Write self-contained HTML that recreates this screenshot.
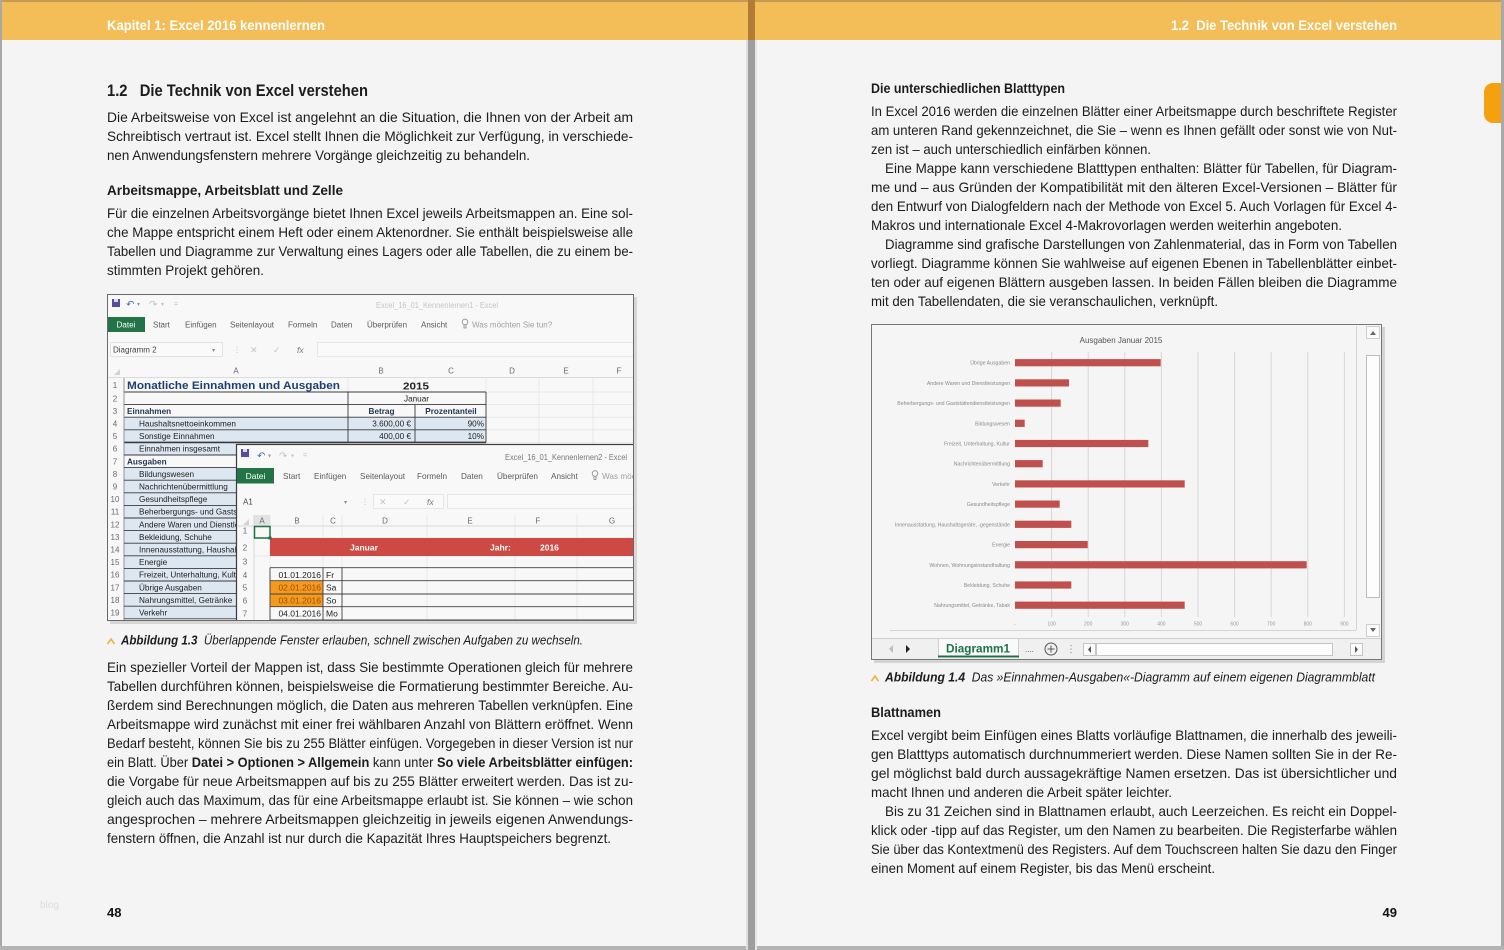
<!DOCTYPE html>
<html><head><meta charset="utf-8">
<style>
html,body{margin:0;padding:0;background:#f4f4f4;}
svg{display:block;}
text{font-family:"Liberation Sans",Arial,sans-serif;white-space:pre;}
</style></head><body>
<svg width="1504" height="950" viewBox="0 0 1504 950" xmlns="http://www.w3.org/2000/svg">
<defs>
<clipPath id="c1"><rect x="108" y="295" width="525" height="325"/></clipPath>
<clipPath id="c2"><rect x="237" y="445" width="396" height="175"/></clipPath>
</defs>
<rect width="1504" height="950" fill="#f4f4f4"/>
<!-- header band -->
<rect x="0" y="0" width="1504" height="40" fill="#f3bd57"/>
<rect x="0" y="0" width="1504" height="2" fill="#c39a58"/>
<!-- orange side tab -->
<path d="M1504 83 H1493 a9 9 0 0 0 -9 9 V114 a9 9 0 0 0 9 9 H1504 Z" fill="#f5a00f"/>
<!-- borders -->
<rect x="0" y="0" width="2" height="950" fill="#a9a9a9"/>
<rect x="1501" y="0" width="3" height="950" fill="#a9a9a9"/>
<rect x="0" y="946" width="1504" height="4" fill="#b3b3b3"/>
<!-- gutter -->
<rect x="746" y="40" width="2" height="910" fill="#dedede"/>
<rect x="755" y="40" width="2" height="910" fill="#e6e6e6"/>
<rect x="748" y="0" width="7" height="950" fill="#9e9e9e"/>
<rect x="748" y="0" width="7" height="40" fill="#b27c36"/>

<!-- header texts -->
<text x="107" y="30" font-size="14" font-weight="bold" fill="#ffffff" textLength="218" lengthAdjust="spacingAndGlyphs">Kapitel 1: Excel 2016 kennenlernen</text>
<text x="1171" y="30" font-size="14" font-weight="bold" fill="#ffffff" textLength="226" lengthAdjust="spacingAndGlyphs">1.2  Die Technik von Excel verstehen</text>

<!-- LEFT PAGE TEXT -->
<g fill="#1c1c1c" font-size="14">
<text x="107" y="96" font-size="17" font-weight="bold" textLength="261" lengthAdjust="spacingAndGlyphs">1.2   Die Technik von Excel verstehen</text>
<text x="107" y="122" textLength="526" lengthAdjust="spacingAndGlyphs">Die Arbeitsweise von Excel ist angelehnt an die Situation, die Ihnen von der Arbeit am</text>
<text x="107" y="141" textLength="526" lengthAdjust="spacingAndGlyphs">Schreibtisch vertraut ist. Excel stellt Ihnen die Möglichkeit zur Verfügung, in verschiede-</text>
<text x="107" y="160" textLength="423" lengthAdjust="spacingAndGlyphs">nen Anwendungsfenstern mehrere Vorgänge gleichzeitig zu behandeln.</text>
<text x="107" y="195" font-weight="bold" textLength="236" lengthAdjust="spacingAndGlyphs">Arbeitsmappe, Arbeitsblatt und Zelle</text>
<text x="107" y="218" textLength="526" lengthAdjust="spacingAndGlyphs">Für die einzelnen Arbeitsvorgänge bietet Ihnen Excel jeweils Arbeitsmappen an. Eine sol-</text>
<text x="107" y="237" textLength="526" lengthAdjust="spacingAndGlyphs">che Mappe entspricht einem Heft oder einem Aktenordner. Sie enthält beispielsweise alle</text>
<text x="107" y="256" textLength="526" lengthAdjust="spacingAndGlyphs">Tabellen und Diagramme zur Verwaltung eines Lagers oder alle Tabellen, die zu einem be-</text>
<text x="107" y="275" textLength="157" lengthAdjust="spacingAndGlyphs">stimmten Projekt gehören.</text>

<text x="107" y="672" textLength="526" lengthAdjust="spacingAndGlyphs">Ein spezieller Vorteil der Mappen ist, dass Sie bestimmte Operationen gleich für mehrere</text>
<text x="107" y="691" textLength="526" lengthAdjust="spacingAndGlyphs">Tabellen durchführen können, beispielsweise die Formatierung bestimmter Bereiche. Au-</text>
<text x="107" y="710" textLength="526" lengthAdjust="spacingAndGlyphs">ßerdem sind Berechnungen möglich, die Daten aus mehreren Tabellen verknüpfen. Eine</text>
<text x="107" y="729" textLength="526" lengthAdjust="spacingAndGlyphs">Arbeitsmappe wird zunächst mit einer frei wählbaren Anzahl von Blättern eröffnet. Wenn</text>
<text x="107" y="748" textLength="526" lengthAdjust="spacingAndGlyphs">Bedarf besteht, können Sie bis zu 255 Blätter einfügen. Vorgegeben in dieser Version ist nur</text>
<text x="107" y="767" textLength="526" lengthAdjust="spacingAndGlyphs">ein Blatt. Über <tspan font-weight="bold">Datei &gt; Optionen &gt; Allgemein</tspan> kann unter <tspan font-weight="bold">So viele Arbeitsblätter einfügen:</tspan></text>
<text x="107" y="786" textLength="526" lengthAdjust="spacingAndGlyphs">die Vorgabe für neue Arbeitsmappen auf bis zu 255 Blätter erweitert werden. Das ist zu-</text>
<text x="107" y="805" textLength="526" lengthAdjust="spacingAndGlyphs">gleich auch das Maximum, das für eine Arbeitsmappe erlaubt ist. Sie können – wie schon</text>
<text x="107" y="824" textLength="526" lengthAdjust="spacingAndGlyphs">angesprochen – mehrere Arbeitsmappen gleichzeitig in jeweils eigenen Anwendungs-</text>
<text x="107" y="843" textLength="504" lengthAdjust="spacingAndGlyphs">fenstern öffnen, die Anzahl ist nur durch die Kapazität Ihres Hauptspeichers begrenzt.</text>
</g>

<!-- caption 1.3 -->
<path d="M107.5 644 l3.5 -5 l3.5 5" stroke="#efb23a" stroke-width="1.6" fill="none"/>
<text x="121" y="644.5" font-size="12.5" font-style="italic" fill="#1c1c1c" textLength="462" lengthAdjust="spacingAndGlyphs"><tspan font-weight="bold">Abbildung 1.3</tspan>  Überlappende Fenster erlauben, schnell zwischen Aufgaben zu wechseln.</text>

<!-- page number left + blog -->
<text x="40" y="908" font-size="10" fill="#dcdcdc">blog</text>
<text x="107" y="917" font-size="13" font-weight="bold" fill="#111">48</text>

<!-- ========== EXCEL SCREENSHOT 1 ========== -->
<rect x="110" y="297" width="527" height="327" fill="#c9c9c9" opacity="0.7"/>
<rect x="107.5" y="294.5" width="526" height="326" fill="#f8f8f8" stroke="#6a6a6a"/>
<g clip-path="url(#c1)">
 <!-- title bar -->
 <rect x="112" y="299" width="8" height="8" fill="#5b4a9e"/>
 <rect x="114" y="299" width="4" height="3" fill="#ddd"/>
 <text x="126" y="307.5" font-size="10" fill="#3f6fb5">↶</text>
 <text x="137" y="306" font-size="6" fill="#999">▾</text>
 <text x="149" y="307.5" font-size="10" fill="#c2c2c2">↷</text>
 <text x="161" y="306" font-size="6" fill="#c2c2c2">▾</text>
 <text x="174" y="306" font-size="7" fill="#c2c2c2">=</text>
 <text x="376" y="308" font-size="8" fill="#c4c4c4" textLength="122" lengthAdjust="spacingAndGlyphs">Excel_16_01_Kennenlernen1 - Excel</text>
 <!-- tabs -->
 <rect x="107" y="317" width="38" height="15" fill="#227447"/>
 <text x="126" y="327.5" font-size="8" fill="#fff" text-anchor="middle">Datei</text>
 <g font-size="8" fill="#5a5a5a">
  <text x="153" y="327.5">Start</text>
  <text x="185" y="327.5">Einfügen</text>
  <text x="230" y="327.5">Seitenlayout</text>
  <text x="288" y="327.5">Formeln</text>
  <text x="331" y="327.5">Daten</text>
  <text x="367" y="327.5">Überprüfen</text>
  <text x="421" y="327.5">Ansicht</text>
 </g>
 <circle cx="465" cy="322" r="2.8" fill="none" stroke="#888" stroke-width=".8"/>
 <path d="M464 325 v3 h2 v-3" fill="none" stroke="#888" stroke-width=".8"/>
 <text x="472" y="327.5" font-size="8" fill="#a0a0a0">Was möchten Sie tun?</text>
 <!-- formula bar -->
 <rect x="110.5" y="342.5" width="112" height="14" fill="#fafafa" stroke="#e2e2e2"/>
 <text x="113" y="352.5" font-size="8" fill="#444">Diagramm 2</text>
 <text x="212" y="352" font-size="6" fill="#888">▾</text>
 <text x="233" y="352.5" font-size="8" fill="#bbb">⋮</text>
 <text x="250" y="353" font-size="9" fill="#c4c4c4">✕</text>
 <text x="273" y="353" font-size="9" fill="#c4c4c4">✓</text>
 <text x="297" y="353" font-size="8.5" font-style="italic" fill="#777">fx</text>
 <rect x="317.5" y="342.5" width="320" height="14" fill="#fafafa" stroke="#e6e6e6"/>
 <!-- column headers -->
 <path d="M114 375 L120 369 L120 375 Z" fill="#d2d2d2"/>
 <g font-size="8" fill="#6a6a6a" text-anchor="middle">
  <text x="236" y="373.5">A</text><text x="381" y="373.5">B</text><text x="451" y="373.5">C</text>
  <text x="512" y="373.5">D</text><text x="566" y="373.5">E</text><text x="619" y="373.5">F</text>
 </g>
 <line x1="107" y1="377.5" x2="634" y2="377.5" stroke="#dcdcdc"/>
 <!-- fills -->
 <rect x="124" y="417.2" width="362" height="25.2" fill="#dde7f2"/>
 <rect x="124" y="442.4" width="224" height="12.6" fill="#dde7f2"/>
 <rect x="124" y="467.6" width="224" height="151.2" fill="#dde7f2"/>
 <!-- faint grid -->
 <g stroke="#e4e4e4" stroke-width="0.8">
  <line x1="124" y1="378" x2="124" y2="620"/><line x1="348" y1="378" x2="348" y2="620"/>
  <line x1="415" y1="378" x2="415" y2="620"/><line x1="486" y1="378" x2="486" y2="620"/>
  <line x1="539" y1="378" x2="539" y2="620"/><line x1="593" y1="378" x2="593" y2="620"/>
  <line x1="486" y1="392" x2="634" y2="392"/><line x1="486" y1="404.6" x2="634" y2="404.6"/>
  <line x1="486" y1="417.2" x2="634" y2="417.2"/><line x1="486" y1="429.8" x2="634" y2="429.8"/>
  <line x1="486" y1="442.4" x2="634" y2="442.4"/>
 </g>
 <!-- dark borders -->
 <g stroke="#3a3a3a" stroke-width="0.9">
  <line x1="124" y1="392" x2="486" y2="392"/>
  <line x1="124" y1="404.6" x2="486" y2="404.6"/>
  <line x1="124" y1="417.2" x2="486" y2="417.2"/>
  <line x1="124" y1="429.8" x2="486" y2="429.8"/>
  <line x1="124" y1="442.4" x2="486" y2="442.4" stroke-width="1.6"/>
  <line x1="348" y1="392" x2="348" y2="442.4"/>
  <line x1="415" y1="404.6" x2="415" y2="442.4"/>
  <line x1="486" y1="392" x2="486" y2="442.4"/>
  <line x1="124" y1="378" x2="124" y2="620" stroke="#8a8a8a"/>
  <line x1="124" y1="455" x2="348" y2="455"/>
  <line x1="124" y1="467.6" x2="348" y2="467.6"/>
  <line x1="124" y1="480.2" x2="348" y2="480.2"/>
  <line x1="124" y1="492.8" x2="348" y2="492.8"/>
  <line x1="124" y1="505.4" x2="348" y2="505.4"/>
  <line x1="124" y1="518" x2="348" y2="518"/>
  <line x1="124" y1="530.6" x2="348" y2="530.6"/>
  <line x1="124" y1="543.2" x2="348" y2="543.2"/>
  <line x1="124" y1="555.8" x2="348" y2="555.8"/>
  <line x1="124" y1="568.4" x2="348" y2="568.4"/>
  <line x1="124" y1="581" x2="348" y2="581"/>
  <line x1="124" y1="593.6" x2="348" y2="593.6"/>
  <line x1="124" y1="606.2" x2="348" y2="606.2"/>
  <line x1="124" y1="618.8" x2="348" y2="618.8"/>
 </g>
 <!-- row numbers -->
 <g font-size="8" fill="#6a6a6a" text-anchor="middle">
  <text x="115" y="388">1</text><text x="115" y="401.3">2</text><text x="115" y="413.9">3</text>
  <text x="115" y="426.5">4</text><text x="115" y="439.1">5</text><text x="115" y="451.7">6</text>
  <text x="115" y="464.3">7</text><text x="115" y="476.9">8</text><text x="115" y="489.5">9</text>
  <text x="115" y="502.1">10</text><text x="115" y="514.7">11</text><text x="115" y="527.3">12</text>
  <text x="115" y="539.9">13</text><text x="115" y="552.5">14</text><text x="115" y="565.1">15</text>
  <text x="115" y="577.7">16</text><text x="115" y="590.3">17</text><text x="115" y="602.9">18</text>
  <text x="115" y="615.5">19</text>
 </g>
 <!-- cell text -->
 <text x="127" y="389" font-size="11" font-weight="bold" fill="#1f3f73" textLength="213" lengthAdjust="spacingAndGlyphs">Monatliche Einnahmen und Ausgaben</text>
 <text x="403" y="389.5" font-size="10.5" font-weight="bold" fill="#222" textLength="26" lengthAdjust="spacingAndGlyphs">2015</text>
 <g font-size="8.2" fill="#222">
  <text x="416.5" y="401.3" text-anchor="middle">Januar</text>
  <text x="127" y="413.9" font-weight="bold" fill="#1f3350">Einnahmen</text>
  <text x="381.5" y="413.9" text-anchor="middle" font-weight="bold" fill="#1f3350">Betrag</text>
  <text x="451" y="413.9" text-anchor="middle" font-weight="bold" fill="#1f3350">Prozentanteil</text>
  <text x="139" y="426.5">Haushaltsnettoeinkommen</text>
  <text x="411" y="426.5" text-anchor="end">3.600,00 €</text>
  <text x="484" y="426.5" text-anchor="end">90%</text>
  <text x="139" y="439.1">Sonstige Einnahmen</text>
  <text x="411" y="439.1" text-anchor="end">400,00 €</text>
  <text x="484" y="439.1" text-anchor="end">10%</text>
  <text x="139" y="451.7">Einnahmen insgesamt</text>
  <text x="127" y="464.3" font-weight="bold" fill="#1f3350">Ausgaben</text>
  <text x="139" y="476.9">Bildungswesen</text>
  <text x="139" y="489.5">Nachrichtenübermittlung</text>
  <text x="139" y="502.1">Gesundheitspflege</text>
  <text x="139" y="514.7">Beherbergungs- und Gaststätten</text>
  <text x="139" y="527.3">Andere Waren und Dienstleistungen</text>
  <text x="139" y="539.9">Bekleidung, Schuhe</text>
  <text x="139" y="552.5">Innenausstattung, Haushaltsgeräte</text>
  <text x="139" y="565.1">Energie</text>
  <text x="139" y="577.7">Freizeit, Unterhaltung, Kultur</text>
  <text x="139" y="590.3">Übrige Ausgaben</text>
  <text x="139" y="602.9">Nahrungsmittel, Getränke</text>
  <text x="139" y="615.5">Verkehr</text>
 </g>

 <!-- ===== front window ===== -->
 <rect x="236.5" y="444.5" width="400" height="178" fill="#f8f8f8" stroke="#3c3c3c" stroke-width="1.2"/>
 <g clip-path="url(#c2)">
  <rect x="241" y="449" width="8" height="8" fill="#5b4a9e"/>
  <rect x="243" y="449" width="4" height="3" fill="#ddd"/>
  <text x="257" y="459" font-size="10" fill="#3f6fb5">↶</text>
  <text x="268" y="457.5" font-size="6" fill="#999">▾</text>
  <text x="279" y="459" font-size="10" fill="#c2c2c2">↷</text>
  <text x="291" y="457.5" font-size="6" fill="#c2c2c2">▾</text>
  <text x="303" y="457.5" font-size="7" fill="#bbb">=</text>
  <text x="505" y="460" font-size="8" fill="#777" textLength="122" lengthAdjust="spacingAndGlyphs">Excel_16_01_Kennenlernen2 - Excel</text>
  <rect x="237" y="468" width="37" height="15.5" fill="#227447"/>
  <text x="255.5" y="479" font-size="8.5" fill="#fff" text-anchor="middle">Datei</text>
  <g font-size="8.2" fill="#5a5a5a">
   <text x="283" y="479">Start</text>
   <text x="314" y="479">Einfügen</text>
   <text x="360" y="479">Seitenlayout</text>
   <text x="417" y="479">Formeln</text>
   <text x="461" y="479">Daten</text>
   <text x="497" y="479">Überprüfen</text>
   <text x="551" y="479">Ansicht</text>
  </g>
  <circle cx="595" cy="473.5" r="2.8" fill="none" stroke="#888" stroke-width=".8"/>
  <path d="M594 476.5 v3 h2 v-3" fill="none" stroke="#888" stroke-width=".8"/>
  <text x="602" y="479" font-size="8.2" fill="#a0a0a0">Was möchten Sie tun?</text>
  <text x="243" y="504.5" font-size="8" fill="#444">A1</text>
  <text x="344" y="504" font-size="6" fill="#888">▾</text>
  <text x="361" y="504.5" font-size="8" fill="#bbb">⋮</text>
  <rect x="373.5" y="494.5" width="70" height="14" fill="#fafafa" stroke="#e6e6e6"/>
  <text x="379" y="505" font-size="9" fill="#c4c4c4">✕</text>
  <text x="403" y="505" font-size="9" fill="#c4c4c4">✓</text>
  <text x="427" y="505" font-size="8.5" font-style="italic" fill="#777">fx</text>
  <rect x="447.5" y="494.5" width="190" height="14" fill="#fafafa" stroke="#e6e6e6"/>
  <!-- col headers -->
  <rect x="254" y="515" width="16" height="11" fill="#e2e2e2"/>
  <path d="M243 525 L249 519 L249 525 Z" fill="#d2d2d2"/>
  <g font-size="8" fill="#6a6a6a" text-anchor="middle">
   <text x="262" y="523.5">A</text><text x="297" y="523.5">B</text><text x="333" y="523.5">C</text>
   <text x="385" y="523.5">D</text><text x="470" y="523.5">E</text><text x="538" y="523.5">F</text>
   <text x="612" y="523.5">G</text>
  </g>
  <line x1="237" y1="526" x2="634" y2="526" stroke="#d8d8d8"/>
  <line x1="254" y1="515" x2="254" y2="621" stroke="#d8d8d8"/>
  <g stroke="#e4e4e4" stroke-width="0.8">
   <line x1="270" y1="515" x2="270" y2="621"/><line x1="323" y1="515" x2="323" y2="621"/>
   <line x1="342" y1="515" x2="342" y2="621"/><line x1="427" y1="515" x2="427" y2="621"/>
   <line x1="515" y1="515" x2="515" y2="621"/><line x1="577" y1="515" x2="577" y2="621"/>
   <line x1="254" y1="538" x2="634" y2="538"/><line x1="254" y1="556" x2="634" y2="556"/>
  </g>
  <g font-size="8" fill="#6a6a6a" text-anchor="middle">
   <text x="245" y="533.5">1</text><text x="245" y="550.5">2</text><text x="245" y="564.5">3</text>
   <text x="245" y="578">4</text><text x="245" y="590.7">5</text><text x="245" y="603.3">6</text>
   <text x="245" y="616.3">7</text>
  </g>
  <!-- red band -->
  <rect x="270" y="538" width="366" height="18" fill="#cc4a43"/>
  <g font-size="8.5" font-weight="bold" fill="#fff">
   <text x="350" y="550.5">Januar</text>
   <text x="490" y="550.5">Jahr:</text>
   <text x="540" y="550.5">2016</text>
  </g>
  <rect x="254.5" y="526.5" width="15.5" height="11.5" fill="none" stroke="#1e7145" stroke-width="1.5"/>
  <rect x="268.5" y="536.5" width="3" height="3" fill="#1e7145"/>
  <!-- orange -->
  <rect x="270" y="580.7" width="53" height="26" fill="#f39a1f"/>
  <g stroke="#404040" stroke-width="0.9">
   <line x1="270" y1="567.7" x2="636" y2="567.7"/>
   <line x1="270" y1="580.7" x2="636" y2="580.7"/>
   <line x1="270" y1="594" x2="636" y2="594"/>
   <line x1="270" y1="606.7" x2="636" y2="606.7"/>
   <line x1="270" y1="620" x2="636" y2="620"/>
   <line x1="270" y1="567.7" x2="270" y2="621"/>
   <line x1="323" y1="567.7" x2="323" y2="621"/>
   <line x1="342" y1="567.7" x2="342" y2="621"/>
  </g>
  <g font-size="8.5" fill="#222">
   <text x="321" y="578" text-anchor="end">01.01.2016</text>
   <text x="321" y="590.7" text-anchor="end" fill="#a04d00">02.01.2016</text>
   <text x="321" y="603.3" text-anchor="end" fill="#a04d00">03.01.2016</text>
   <text x="321" y="616.3" text-anchor="end">04.01.2016</text>
   <text x="326" y="578">Fr</text><text x="326" y="590.7">Sa</text>
   <text x="326" y="603.3">So</text><text x="326" y="616.3">Mo</text>
  </g>
 </g>
</g>

<!-- RIGHT PAGE TEXT -->
<g fill="#1c1c1c" font-size="14">
<text x="871" y="93" font-weight="bold" textLength="194" lengthAdjust="spacingAndGlyphs">Die unterschiedlichen Blatttypen</text>
<text x="871" y="116" textLength="526" lengthAdjust="spacingAndGlyphs">In Excel 2016 werden die einzelnen Blätter einer Arbeitsmappe durch beschriftete Register</text>
<text x="871" y="135" textLength="526" lengthAdjust="spacingAndGlyphs">am unteren Rand gekennzeichnet, die Sie – wenn es Ihnen gefällt oder sonst wie von Nut-</text>
<text x="871" y="154" textLength="280" lengthAdjust="spacingAndGlyphs">zen ist – auch unterschiedlich einfärben können.</text>
<text x="885" y="173" textLength="512" lengthAdjust="spacingAndGlyphs">Eine Mappe kann verschiedene Blatttypen enthalten: Blätter für Tabellen, für Diagram-</text>
<text x="871" y="192" textLength="526" lengthAdjust="spacingAndGlyphs">me und – aus Gründen der Kompatibilität mit den älteren Excel-Versionen – Blätter für</text>
<text x="871" y="211" textLength="526" lengthAdjust="spacingAndGlyphs">den Entwurf von Dialogfeldern nach der Methode von Excel 5. Auch Vorlagen für Excel 4-</text>
<text x="871" y="230" textLength="471" lengthAdjust="spacingAndGlyphs">Makros und internationale Excel 4-Makrovorlagen werden weiterhin angeboten.</text>
<text x="885" y="249" textLength="512" lengthAdjust="spacingAndGlyphs">Diagramme sind grafische Darstellungen von Zahlenmaterial, das in Form von Tabellen</text>
<text x="871" y="268" textLength="526" lengthAdjust="spacingAndGlyphs">vorliegt. Diagramme können Sie wahlweise auf eigenen Ebenen in Tabellenblätter einbet-</text>
<text x="871" y="287" textLength="526" lengthAdjust="spacingAndGlyphs">ten oder auf eigenen Blättern ausgeben lassen. In beiden Fällen bleiben die Diagramme</text>
<text x="871" y="306" textLength="347" lengthAdjust="spacingAndGlyphs">mit den Tabellendaten, die sie veranschaulichen, verknüpft.</text>

<text x="871" y="717" font-weight="bold" textLength="70" lengthAdjust="spacingAndGlyphs">Blattnamen</text>
<text x="871" y="740" textLength="526" lengthAdjust="spacingAndGlyphs">Excel vergibt beim Einfügen eines Blatts vorläufige Blattnamen, die innerhalb des jeweili-</text>
<text x="871" y="759" textLength="526" lengthAdjust="spacingAndGlyphs">gen Blatttyps automatisch durchnummeriert werden. Diese Namen sollten Sie in der Re-</text>
<text x="871" y="778" textLength="526" lengthAdjust="spacingAndGlyphs">gel möglichst bald durch aussagekräftige Namen ersetzen. Das ist übersichtlicher und</text>
<text x="871" y="797" textLength="301" lengthAdjust="spacingAndGlyphs">macht Ihnen und anderen die Arbeit später leichter.</text>
<text x="885" y="816" textLength="512" lengthAdjust="spacingAndGlyphs">Bis zu 31 Zeichen sind in Blattnamen erlaubt, auch Leerzeichen. Es reicht ein Doppel-</text>
<text x="871" y="835" textLength="526" lengthAdjust="spacingAndGlyphs">klick oder -tipp auf das Register, um den Namen zu bearbeiten. Die Registerfarbe wählen</text>
<text x="871" y="854" textLength="526" lengthAdjust="spacingAndGlyphs">Sie über das Kontextmenü des Registers. Auf dem Touchscreen halten Sie dazu den Finger</text>
<text x="871" y="873" textLength="344" lengthAdjust="spacingAndGlyphs">einen Moment auf einem Register, bis das Menü erscheint.</text>
</g>

<!-- caption 1.4 -->
<path d="M871.5 681 l3.5 -5 l3.5 5" stroke="#efb23a" stroke-width="1.6" fill="none"/>
<text x="885" y="681.5" font-size="12.5" font-style="italic" fill="#1c1c1c" textLength="490" lengthAdjust="spacingAndGlyphs"><tspan font-weight="bold">Abbildung 1.4</tspan>  Das »Einnahmen-Ausgaben«-Diagramm auf einem eigenen Diagrammblatt</text>

<text x="1397" y="917" font-size="13" font-weight="bold" fill="#111" text-anchor="end">49</text>

<!-- ========== CHART SCREENSHOT ========== -->
<rect x="874" y="327" width="511" height="336" fill="#c6c6c6" opacity="0.7"/>
<rect x="871.5" y="324.5" width="510" height="335" fill="#f5f5f5" stroke="#777"/>
<text x="1121" y="343" font-size="8" fill="#555" text-anchor="middle">Ausgaben Januar 2015</text>
<line x1="1356.5" y1="326" x2="1356.5" y2="630" stroke="#d4d4d4"/>
<line x1="890" y1="630.5" x2="1356" y2="630.5" stroke="#d4d4d4"/>
<g stroke="#d8d8d8" stroke-width="1">
 <line x1="1051.6" y1="352" x2="1051.6" y2="617"/>
 <line x1="1088.2" y1="352" x2="1088.2" y2="617"/>
 <line x1="1124.8" y1="352" x2="1124.8" y2="617"/>
 <line x1="1161.4" y1="352" x2="1161.4" y2="617"/>
 <line x1="1198" y1="352" x2="1198" y2="617"/>
 <line x1="1234.6" y1="352" x2="1234.6" y2="617"/>
 <line x1="1271.2" y1="352" x2="1271.2" y2="617"/>
 <line x1="1307.8" y1="352" x2="1307.8" y2="617"/>
 <line x1="1344.4" y1="352" x2="1344.4" y2="617"/>
</g>
<g fill="#c0504d">
 <rect x="1015" y="359.1" width="145.7" height="7.2"/>
 <rect x="1015" y="379.3" width="54" height="7.2"/>
 <rect x="1015" y="399.5" width="45.7" height="7.2"/>
 <rect x="1015" y="419.7" width="9.7" height="7.2"/>
 <rect x="1015" y="439.9" width="133.3" height="7.2"/>
 <rect x="1015" y="460.1" width="27.7" height="7.2"/>
 <rect x="1015" y="480.3" width="169.7" height="7.2"/>
 <rect x="1015" y="500.5" width="44.7" height="7.2"/>
 <rect x="1015" y="520.7" width="56.3" height="7.2"/>
 <rect x="1015" y="541" width="72.7" height="7.2"/>
 <rect x="1015" y="561.2" width="291.7" height="7.2"/>
 <rect x="1015" y="581.4" width="56.3" height="7.2"/>
 <rect x="1015" y="601.6" width="169.7" height="7.2"/>
</g>
<g font-size="5.2" fill="#8a8a8a" text-anchor="end">
 <text x="1010" y="364.7">Übrige Ausgaben</text>
 <text x="1010" y="384.9">Andere Waren und Dienstleistungen</text>
 <text x="1010" y="405.1">Beherbergungs- und Gaststättendienstleistungen</text>
 <text x="1010" y="425.3">Bildungswesen</text>
 <text x="1010" y="445.5">Freizeit, Unterhaltung, Kultur</text>
 <text x="1010" y="465.7">Nachrichtenübermittlung</text>
 <text x="1010" y="485.9">Verkehr</text>
 <text x="1010" y="506.1">Gesundheitspflege</text>
 <text x="1010" y="526.3">Innenausstattung, Haushaltsgeräte, -gegenstände</text>
 <text x="1010" y="546.6">Energie</text>
 <text x="1010" y="566.8">Wohnen, Wohnungsinstandhaltung</text>
 <text x="1010" y="587">Bekleidung, Schuhe</text>
 <text x="1010" y="607.2">Nahrungsmittel, Getränke, Tabak</text>
</g>
<g font-size="5" fill="#999" text-anchor="middle">
 <text x="1015" y="625.5">-</text>
 <text x="1051.6" y="625.5">100</text><text x="1088.2" y="625.5">200</text>
 <text x="1124.8" y="625.5">300</text><text x="1161.4" y="625.5">400</text>
 <text x="1198" y="625.5">500</text><text x="1234.6" y="625.5">600</text>
 <text x="1271.2" y="625.5">700</text><text x="1307.8" y="625.5">800</text>
 <text x="1344.4" y="625.5">900</text>
</g>
<!-- vertical scrollbar -->
<rect x="1366.5" y="326.5" width="13" height="12" fill="#fbfbfb" stroke="#cfcfcf"/>
<path d="M1370 335 l3 -4 l3 4 z" fill="#666"/>
<rect x="1366.5" y="355.5" width="13" height="242" fill="#fdfdfd" stroke="#bdbdbd"/>
<rect x="1366.5" y="624.5" width="13" height="12" fill="#fbfbfb" stroke="#cfcfcf"/>
<path d="M1370 628 l3 4 l3 -4 z" fill="#666"/>
<!-- bottom tab bar -->
<rect x="872" y="639" width="509" height="20" fill="#f0f0f0"/>
<line x1="872" y1="638.5" x2="1381" y2="638.5" stroke="#cfcfcf"/>
<path d="M893 645 l-4 4 l4 4 z" fill="#bdbdbd"/>
<path d="M906 645 l4 4 l-4 4 z" fill="#222"/>
<rect x="938" y="639" width="81" height="19" fill="#fafafa"/>
<line x1="938.5" y1="639" x2="938.5" y2="658" stroke="#cfcfcf"/>
<line x1="1018.5" y1="639" x2="1018.5" y2="658" stroke="#cfcfcf"/>
<text x="946" y="652.5" font-size="11.5" font-weight="bold" fill="#1e7145" textLength="64" lengthAdjust="spacingAndGlyphs">Diagramm1</text>
<rect x="938" y="655.5" width="81" height="2" fill="#1e7145"/>
<text x="1025" y="652" font-size="8" fill="#555">....</text>
<circle cx="1051" cy="649" r="6" fill="none" stroke="#555" stroke-width="1"/>
<path d="M1047.5 649 h7 M1051 645.5 v7" stroke="#555" stroke-width="1"/>
<circle cx="1071" cy="645.5" r=".8" fill="#aaa"/><circle cx="1071" cy="649" r=".8" fill="#aaa"/><circle cx="1071" cy="652.5" r=".8" fill="#aaa"/>
<rect x="1083.5" y="643.5" width="12" height="12" fill="#fbfbfb" stroke="#c4c4c4"/>
<path d="M1091 646 l-3 3.5 l3 3.5 z" fill="#555"/>
<rect x="1096.5" y="643.5" width="236" height="12" fill="#fdfdfd" stroke="#c4c4c4"/>
<rect x="1350.5" y="643.5" width="12" height="12" fill="#fbfbfb" stroke="#c4c4c4"/>
<path d="M1355 646 l3 3.5 l-3 3.5 z" fill="#555"/>
</svg>
</body></html>
